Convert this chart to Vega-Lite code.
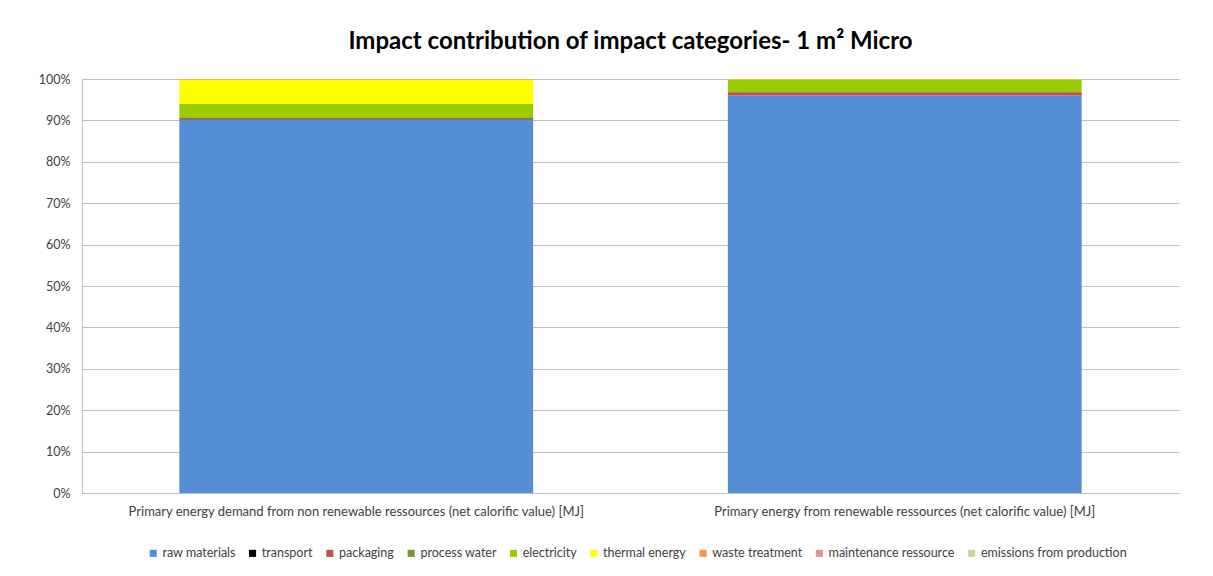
{
  "$schema": "https://vega.github.io/schema/vega-lite/v6.json",
  "width": 1097,
  "height": 414,
  "autosize": {"type": "none"},
  "padding": {"left": 82, "top": 79, "right": 34, "bottom": 83},
  "background": "white",
  "title": {
    "text": "Impact contribution of impact categories- 1 m² Micro",
    "font": "Lato",
    "fontSize": 24,
    "fontWeight": "bold",
    "color": "#000000",
    "anchor": "middle",
    "offset": 19
  },
  "data": {
    "values": [
      {"category": "Primary energy demand from non renewable ressources (net calorific value) [MJ]", "process": "raw materials", "rank": 1, "share": 90.3},
      {"category": "Primary energy demand from non renewable ressources (net calorific value) [MJ]", "process": "transport", "rank": 2, "share": 0.05},
      {"category": "Primary energy demand from non renewable ressources (net calorific value) [MJ]", "process": "packaging", "rank": 3, "share": 0.2},
      {"category": "Primary energy demand from non renewable ressources (net calorific value) [MJ]", "process": "process water", "rank": 4, "share": 0.02},
      {"category": "Primary energy demand from non renewable ressources (net calorific value) [MJ]", "process": "electricity", "rank": 5, "share": 3.4},
      {"category": "Primary energy demand from non renewable ressources (net calorific value) [MJ]", "process": "thermal energy", "rank": 6, "share": 5.9},
      {"category": "Primary energy demand from non renewable ressources (net calorific value) [MJ]", "process": "waste treatment", "rank": 7, "share": 0.1},
      {"category": "Primary energy demand from non renewable ressources (net calorific value) [MJ]", "process": "maintenance ressource", "rank": 8, "share": 0.02},
      {"category": "Primary energy demand from non renewable ressources (net calorific value) [MJ]", "process": "emissions from production", "rank": 9, "share": 0.01},
      {"category": "Primary energy from renewable ressources (net calorific value) [MJ]", "process": "raw materials", "rank": 1, "share": 96.0},
      {"category": "Primary energy from renewable ressources (net calorific value) [MJ]", "process": "transport", "rank": 2, "share": 0.01},
      {"category": "Primary energy from renewable ressources (net calorific value) [MJ]", "process": "packaging", "rank": 3, "share": 0.8},
      {"category": "Primary energy from renewable ressources (net calorific value) [MJ]", "process": "process water", "rank": 4, "share": 0.02},
      {"category": "Primary energy from renewable ressources (net calorific value) [MJ]", "process": "electricity", "rank": 5, "share": 3.0},
      {"category": "Primary energy from renewable ressources (net calorific value) [MJ]", "process": "thermal energy", "rank": 6, "share": 0.1},
      {"category": "Primary energy from renewable ressources (net calorific value) [MJ]", "process": "waste treatment", "rank": 7, "share": 0.05},
      {"category": "Primary energy from renewable ressources (net calorific value) [MJ]", "process": "maintenance ressource", "rank": 8, "share": 0.01},
      {"category": "Primary energy from renewable ressources (net calorific value) [MJ]", "process": "emissions from production", "rank": 9, "share": 0.01}
    ]
  },
  "mark": {"type": "bar"},
  "encoding": {
    "x": {
      "field": "category",
      "type": "nominal",
      "sort": null,
      "scale": {"paddingInner": 0.355, "paddingOuter": 0.1775},
      "axis": {
        "title": null,
        "labelAngle": 0,
        "labelFont": "Lato",
        "labelFontSize": 13,
        "labelColor": "#404040",
        "labelPadding": 12,
        "labelLimit": 600,
        "ticks": false,
        "domainColor": "#BFBFBF",
        "grid": false
      }
    },
    "y": {
      "field": "share",
      "type": "quantitative",
      "stack": "normalize",
      "scale": {"domain": [0, 1], "nice": false},
      "axis": {
        "title": null,
        "format": ".0%",
        "values": [0, 0.1, 0.2, 0.3, 0.4, 0.5, 0.6, 0.7, 0.8, 0.9, 1.0],
        "labelFont": "Lato",
        "labelFontSize": 12.5,
        "labelColor": "#404040",
        "labelPadding": 12,
        "ticks": false,
        "domainColor": "#BFBFBF",
        "gridColor": "#BFBFBF",
        "gridWidth": 1
      }
    },
    "order": {"field": "rank", "type": "quantitative", "sort": "ascending"},
    "color": {
      "field": "process",
      "type": "nominal",
      "scale": {
        "domain": ["raw materials", "transport", "packaging", "process water", "electricity", "thermal energy", "waste treatment", "maintenance ressource", "emissions from production"],
        "range": ["#558ED5", "#000000", "#C0504D", "#77933C", "#99CC00", "#FFFF00", "#F79646", "#D99694", "#C3D69B"]
      },
      "legend": {
        "title": null,
        "orient": "none",
        "legendX": 65,
        "legendY": 468,
        "direction": "horizontal",
        "symbolType": "square",
        "symbolSize": 50,
        "symbolStrokeWidth": 0,
        "labelFont": "Lato",
        "labelFontSize": 12.5,
        "labelColor": "#404040",
        "labelOffset": 3,
        "columnPadding": 10.3,
        "labelLimit": 300
      }
    }
  },
  "config": {
    "view": {"stroke": null}
  }
}
